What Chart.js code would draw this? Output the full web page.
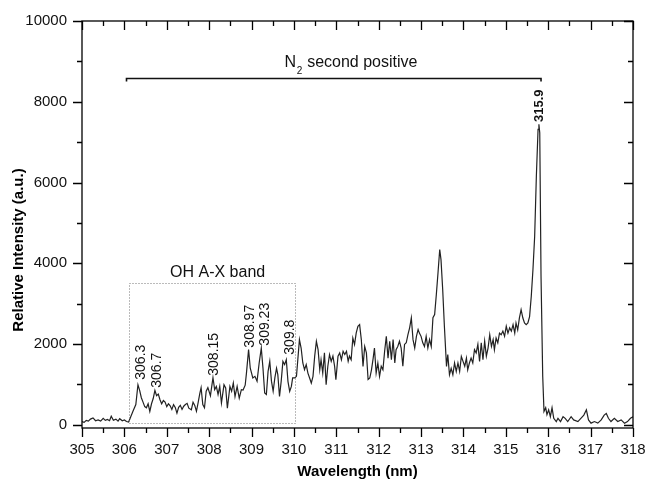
<!DOCTYPE html>
<html>
<head>
<meta charset="utf-8">
<script src="https://cdn.jsdelivr.net/npm/chart.js@4.4.1/dist/chart.umd.min.js"></script>
<style>
  html, body { margin: 0; padding: 0; background: #fff; }
  #wrap { width: 646px; height: 482px; }
</style>
</head>
<body>
<div id="wrap"><canvas id="spectrum" width="646" height="482"></canvas></div>
<script>
// wavelength (nm) and intensity (a.u.)
const wavelength = [
  305.00, 305.05, 305.10, 305.15, 305.20, 305.26, 305.32, 305.38, 305.44, 305.50,
  305.55, 305.60, 305.65, 305.69, 305.74, 305.80, 305.85, 305.89, 305.95, 306.00,
  306.05, 306.10, 306.15, 306.20, 306.27, 306.32, 306.36, 306.40, 306.44, 306.48,
  306.52, 306.56, 306.60, 306.64, 306.68, 306.72, 306.76, 306.80, 306.84, 306.88,
  306.92, 306.96, 307.00, 307.04, 307.08, 307.12, 307.16, 307.20, 307.24, 307.28,
  307.32, 307.36, 307.40, 307.44, 307.48, 307.52, 307.58, 307.62, 307.66, 307.70,
  307.74, 307.78, 307.81, 307.85, 307.89, 307.93, 307.97, 308.03, 308.09, 308.13,
  308.17, 308.21, 308.25, 308.29, 308.35, 308.39, 308.43, 308.49, 308.53, 308.57,
  308.61, 308.66, 308.71, 308.76, 308.80, 308.85, 308.88, 308.93, 308.97, 309.03,
  309.08, 309.13, 309.18, 309.23, 309.27, 309.31, 309.35, 309.39, 309.43, 309.47,
  309.51, 309.55, 309.59, 309.62, 309.66, 309.70, 309.74, 309.78, 309.82, 309.86,
  309.90, 309.94, 309.97, 310.02, 310.06, 310.13, 310.17, 310.21, 310.25, 310.29,
  310.33, 310.37, 310.41, 310.45, 310.49, 310.53, 310.57, 310.61, 310.64, 310.68,
  310.72, 310.76, 310.80, 310.84, 310.88, 310.92, 310.96, 310.99, 311.04, 311.08,
  311.12, 311.16, 311.20, 311.24, 311.28, 311.31, 311.35, 311.39, 311.43, 311.47,
  311.51, 311.55, 311.59, 311.63, 311.67, 311.71, 311.75, 311.79, 311.83, 311.87,
  311.90, 311.94, 311.98, 312.02, 312.06, 312.10, 312.14, 312.18, 312.22, 312.26,
  312.30, 312.34, 312.38, 312.41, 312.45, 312.49, 312.53, 312.57, 312.61, 312.65,
  312.69, 312.73, 312.77, 312.81, 312.85, 312.89, 312.93, 312.96, 313.00, 313.04,
  313.08, 313.12, 313.16, 313.20, 313.24, 313.28, 313.32, 313.36, 313.40, 313.44,
  313.47, 313.51, 313.55, 313.60, 313.63, 313.67, 313.71, 313.75, 313.79, 313.83,
  313.87, 313.91, 313.95, 313.99, 314.03, 314.07, 314.10, 314.14, 314.18, 314.22,
  314.26, 314.30, 314.34, 314.38, 314.42, 314.46, 314.50, 314.54, 314.58, 314.62,
  314.66, 314.70, 314.73, 314.77, 314.81, 314.85, 314.89, 314.93, 314.97, 315.01,
  315.05, 315.09, 315.13, 315.17, 315.21, 315.24, 315.28, 315.32, 315.36, 315.40,
  315.44, 315.48, 315.52, 315.56, 315.60, 315.64, 315.68, 315.72, 315.76, 315.78,
  315.80, 315.83, 315.87, 315.90, 315.94, 315.97, 316.01, 316.05, 316.09, 316.13,
  316.19, 316.23, 316.29, 316.35, 316.40, 316.46, 316.54, 316.60, 316.70, 316.77,
  316.84, 316.90, 316.95, 317.01, 317.09, 317.17, 317.25, 317.32, 317.37, 317.42,
  317.48, 317.56, 317.64, 317.72, 317.80, 317.87, 317.94, 318.00
];
const intensity = [
  80, 60, 110, 90, 140, 170, 100, 120, 90, 160,
  110, 130, 100, 210, 110, 140, 90, 150, 100, 120,
  80, 70, 200, 330, 500, 990, 850, 670, 560, 450,
  420, 520, 330, 520, 650, 850, 720, 760, 620, 520,
  600, 560, 450, 520, 470, 380, 500, 430, 290, 430,
  480, 380, 460, 500, 530, 410, 372, 560, 480, 335,
  550, 780, 918, 500, 420, 830, 920, 720, 1166, 870,
  950, 750, 950, 540, 990, 910, 410, 950, 830, 1035,
  700, 950, 660, 870, 860, 980, 1280, 1860, 1400, 1160,
  1200, 1080, 1530, 1900, 1400, 790, 750, 1320, 1570, 1080,
  830, 1160, 1400, 1240, 700, 1080, 1570, 1490, 1610, 1070,
  830, 950, 1160, 1160, 1200, 2108, 1900, 1530, 1364, 1490,
  1280, 1160, 1033, 1200, 1700, 2066, 1860, 1360, 1610, 1280,
  1780, 992, 1450, 1740, 1570, 1700, 1450, 1116, 1700, 1780,
  1610, 1820, 1740, 1820, 1570, 1700, 1610, 2149, 1990, 2274,
  2439, 2480, 2110, 1447, 1940, 1780, 1120, 1158, 1360, 1650,
  1900, 1280, 1530, 1200, 1450, 1360, 1820, 2190, 1650, 2070,
  1610, 2110, 1530, 1860, 1940, 2070, 1900, 1450, 1990, 2030,
  2230, 2400, 2646, 2108, 1900, 2190, 2360, 2270, 2190, 2030,
  1940, 2190, 1900, 2110, 1940, 2650, 2730, 3225, 3770, 4340,
  4090, 3350, 2440, 1446, 1740, 1240, 1400, 1240, 1530, 1320,
  1530, 1320, 1690, 1570, 1450, 1650, 1360, 1530, 1650, 1530,
  1860, 1780, 1990, 1570, 2030, 1610, 2070, 1700, 1900, 2232,
  1940, 2110, 1860, 2150, 2030, 2270, 2230, 2320, 2190, 2440,
  2270, 2400, 2320, 2480, 2270, 2520, 2350, 2646, 2852, 2650,
  2520, 2480, 2520, 2680, 3183, 3853, 4670, 6160, 7316, 7440,
  7230, 3680, 1200, 330, 420, 250, 370, 200, 420, 160,
  80, 160, 80, 200, 160, 80, 200, 120, 80, 160,
  240, 370, 120, 40, 80, 40, 120, 240, 280, 160,
  80, 160, 80, 120, 40, 80, 160, 200
];

const xTicks = [305, 306, 307, 308, 309, 310, 311, 312, 313, 314, 315, 316, 317, 318];
const yTicks = [0, 2000, 4000, 6000, 8000, 10000];

// peak labels: text, wavelength, intensity where the label starts
const peakLabels = ['306.3', '306.7', '308.15', '308.97', '309.23', '309.8'];
const peakX = [306.36, 306.75, 308.09, 308.93, 309.29, 309.88];
const peakY = [1116, 918, 1215, 1910, 1960, 1736];

const mainPeakLabel = '315.9';
const mainPeakX = 315.77;
const mainPeakY = 7500;

// OH band box and N2 bracket (data units)
const ohBox = [306.11, 310.02, 40, 3510];
const ohLabel = 'OH A-X band';
const n2Bracket = [306.05, 315.83, 8580];

const FONT = '"Liberation Sans", Arial, sans-serif';

const frame = {
  id: 'frame',
  afterDatasetsDraw(chart) {
    const c = chart.ctx;
    const a = chart.chartArea;
    const xs = chart.scales.x, ys = chart.scales.y;
    c.save();

    // dotted box
    c.strokeStyle = '#777';
    c.lineWidth = 1;
    c.setLineDash([1, 2]);
    const bx1 = xs.getPixelForValue(ohBox[0]), bx2 = xs.getPixelForValue(ohBox[1]);
    const by1 = ys.getPixelForValue(ohBox[3]), by2 = ys.getPixelForValue(ohBox[2]);
    c.strokeRect(Math.round(bx1) + 0.5, Math.round(by1) + 0.5, Math.round(bx2 - bx1), Math.round(by2 - by1));
    c.setLineDash([]);

    // N2 bracket
    c.strokeStyle = '#111';
    c.lineWidth = 1.6;
    const nx1 = xs.getPixelForValue(n2Bracket[0]), nx2 = xs.getPixelForValue(n2Bracket[1]);
    const ny = Math.round(ys.getPixelForValue(n2Bracket[2])) + 0.5;
    c.beginPath();
    c.moveTo(nx1, ny + 3); c.lineTo(nx1, ny); c.lineTo(nx2, ny); c.lineTo(nx2, ny + 3);
    c.stroke();

    c.fillStyle = '#111';
    c.font = '16px ' + FONT;
    c.textBaseline = 'alphabetic';
    c.textAlign = 'left';
    let tx = xs.getPixelForValue(309.78);
    const tyBase = ys.getPixelForValue(8850);
    c.fillText('N', tx, tyBase);
    tx += c.measureText('N').width + 0.5;
    c.font = '10px ' + FONT;
    c.fillText('2', tx, tyBase + 7);
    tx += c.measureText('2').width + 0.5;
    c.font = '16px ' + FONT;
    c.fillText(' second positive', tx, tyBase);

    // OH label
    c.textAlign = 'center';
    c.fillText(ohLabel, xs.getPixelForValue(308.2), ys.getPixelForValue(3670));

    // rotated peak labels
    c.font = '14px ' + FONT;
    c.textAlign = 'left';
    peakLabels.forEach((t, i) => {
      c.save();
      c.translate(xs.getPixelForValue(peakX[i]) + 5, ys.getPixelForValue(peakY[i]));
      c.rotate(-Math.PI / 2);
      c.fillText(t, 0, 0);
      c.restore();
    });
    c.font = 'bold 13px ' + FONT;
    c.save();
    c.translate(xs.getPixelForValue(mainPeakX) + 5, ys.getPixelForValue(mainPeakY));
    c.rotate(-Math.PI / 2);
    c.fillText(mainPeakLabel, 0, 0);
    c.restore();

    // frame and ticks
    c.strokeStyle = '#000';
    c.lineWidth = 1.3;
    c.strokeRect(a.left, a.top, a.right - a.left, a.bottom - a.top);
    c.beginPath();
    for (let v = 305; v <= 318.001; v += 0.5) {
      const px = Math.round(xs.getPixelForValue(v)) + 0.5;
      const len = Math.abs(v - Math.round(v)) < 0.01 ? 9 : 5;
      c.moveTo(px, a.bottom); c.lineTo(px, a.bottom + len);
      c.moveTo(px, a.top); c.lineTo(px, a.top + len);
    }
    for (let v = 0; v <= 10000; v += 1000) {
      const py = Math.round(ys.getPixelForValue(v)) + 0.5;
      const len = v % 2000 === 0 ? 9 : 5;
      c.moveTo(a.left, py); c.lineTo(a.left - len, py);
      c.moveTo(a.right, py); c.lineTo(a.right - len, py);
    }
    c.stroke();

    // axis titles
    c.fillStyle = '#000';
    c.font = 'bold 15px ' + FONT;
    c.textAlign = 'center';
    c.fillText('Wavelength (nm)', (a.left + a.right) / 2, 476);
    c.save();
    c.translate(23, 250);
    c.rotate(-Math.PI / 2);
    c.fillText('Relative Intensity (a.u.)', 0, 0);
    c.restore();

    c.restore();
  }
};

new Chart(document.getElementById('spectrum').getContext('2d'), {
  type: 'line',
  data: {
    datasets: [{
      data: wavelength.map((w, i) => ({ x: w, y: intensity[i] })),
      borderColor: '#222',
      borderWidth: 1.2,
      pointRadius: 0,
      tension: 0,
      fill: false
    }]
  },
  options: {
    responsive: false,
    animation: false,
    events: [],
    layout: { padding: { top: 21, right: 13, left: 0, bottom: 0 } },
    plugins: { legend: { display: false }, tooltip: { enabled: false } },
    scales: {
      x: {
        type: 'linear',
        min: 305,
        max: 318,
        grid: { display: false, drawTicks: false },
        border: { display: false },
        afterBuildTicks: s => { s.ticks = xTicks.map(v => ({ value: v })); },
        afterFit: s => { s.height = 54; s.paddingLeft = 0; s.paddingRight = 0; },
        ticks: { color: '#111', font: { family: FONT, size: 15 }, padding: 13, maxRotation: 0,
                 callback: v => String(v) }
      },
      y: {
        min: -80,
        max: 10000,
        grid: { display: false, drawTicks: false },
        border: { display: false },
        afterBuildTicks: s => { s.ticks = yTicks.map(v => ({ value: v })); },
        afterFit: s => { s.width = 82; s.paddingTop = 0; s.paddingBottom = 0; },
        ticks: { color: '#111', font: { family: FONT, size: 15 }, padding: 15,
                 callback: v => String(v) }
      }
    }
  },
  plugins: [frame]
});
</script>
</body>
</html>
